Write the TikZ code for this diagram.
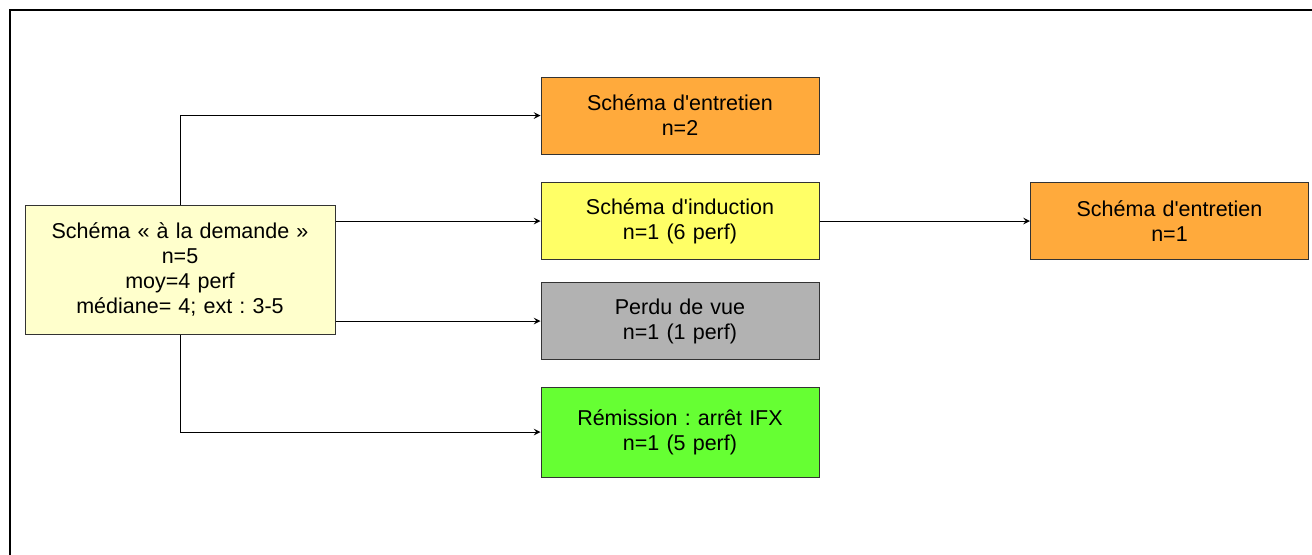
\documentclass[tikz,border=0pt]{standalone}
\usepackage{fontspec}
\setmainfont{Liberation Sans}
\usetikzlibrary{arrows}
\definecolor{creambox}{HTML}{FFFFCC}
\definecolor{orangebox}{HTML}{FFAA3C}
\definecolor{yellowbox}{HTML}{FFFF66}
\definecolor{greybox}{HTML}{B2B2B2}
\definecolor{greenbox}{HTML}{66FF33}
\tikzstyle{boxes} = [rectangle, minimum width=139pt, minimum height=38.5pt, text centered, text
width=130pt, draw=black!80, line width=0.5pt, font=\fontsize{10.75}{12.5}\selectfont\frenchspacing]
\tikzstyle{startbox} = [boxes, minimum width=155pt, minimum height=64.5pt, text width=148pt, fill=creambox]
\tikzstyle{arrow} = [line width=0.5pt, ->, >=stealth]

\begin{document}
\begin{tikzpicture}[node distance=250pt]
    \useasboundingbox (0,0) rectangle (656pt,-277pt);
    %Frame
    \draw [line width=1.2pt] (5pt,-280pt) -- (5pt,-5pt) -- (660pt,-5pt);

    %Main Nodes
    \node (start) [startbox] at (90pt,-134.75pt) {Schéma « à la demande »\\n=5\\moy=4 perf\\médiane= 4; ext : 3-5};
    \node (maint) [boxes, fill=orangebox, right of=start, yshift=77pt] {Schéma d\textquotesingle entretien\\n=2};
    \node (induc) [boxes, fill=yellowbox, right of=start, yshift=24.25pt] {Schéma d\textquotesingle induction\\n=1 (6 perf)};
    \node (lost) [boxes, fill=greybox, right of=start, yshift=-25.75pt] {Perdu de vue\\n=1 (1 perf)};
    \node (remis) [boxes, fill=greenbox, minimum height=45pt, right of=start, yshift=-81.25pt] {Rémission : arrêt IFX\\n=1 (5 perf)};

    %Follow-up Node
    \node (maintB) [boxes, fill=orangebox, right of=induc, xshift=-5.25pt] {Schéma d\textquotesingle entretien\\n=1};

    %Arrows
    \draw [arrow] (start) |- (maint);
    \draw [arrow] (start.east |- induc) -- (induc);
    \draw [arrow] (start.east |- lost) -- (lost);
    \draw [arrow] (start) |- (remis);
    \draw [arrow] (induc) -- (maintB);

\end{tikzpicture}
\end{document}
